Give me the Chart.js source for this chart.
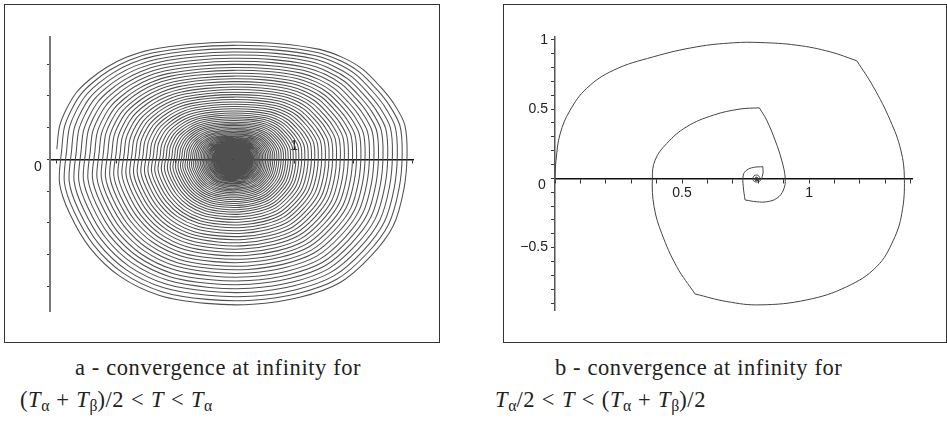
<!DOCTYPE html>
<html>
<head>
<meta charset="utf-8">
<script src="https://cdn.jsdelivr.net/npm/chart.js@4.4.1/dist/chart.umd.min.js"></script>
<style>
  body { margin: 0; width: 947px; height: 422px; background: #fff; position: relative; overflow: hidden; }
  .frame { position: absolute; top: 4px; height: 339px; border: 1.5px solid #333; box-sizing: border-box; }
  #frameA { left: 4px; width: 436px; }
  #frameB { left: 503px; width: 444px; }
  canvas { position: absolute; }
  #chartA { left: 5px; top: 5px; }
  #chartB { left: 504px; top: 5px; }
  .cap { position: absolute; font-family: "Liberation Serif", "DejaVu Serif", serif; font-size: 22.5px; letter-spacing: 0.6px; line-height: 1; color: #222; white-space: nowrap; }
  .cap sub { font-size: 0.7em; vertical-align: baseline; position: relative; top: 0.28em; letter-spacing: 0; }
  .op { margin: 0 0.3em; }
</style>
</head>
<body>
<div class="frame" id="frameA"></div>
<div class="frame" id="frameB"></div>
<canvas id="chartA" width="433" height="337"></canvas>
<canvas id="chartB" width="442" height="337"></canvas>

<div class="cap" style="left:75px; top:357px;">a - convergence at infinity for</div>
<div class="cap" style="left:20px; top:389px;">(<i>T</i><sub>α</sub><span class="op">+</span><i>T</i><sub>β</sub>)/2<span class="op">&lt;</span><i>T</i><span class="op">&lt;</span><i>T</i><sub>α</sub></div>
<div class="cap" style="left:555px; top:357px;">b - convergence at infinity for</div>
<div class="cap" style="left:495px; top:389px;"><i>T</i><sub>α</sub>/2<span class="op">&lt;</span><i>T</i><span class="op">&lt;</span>(<i>T</i><sub>α</sub><span class="op">+</span><i>T</i><sub>β</sub>)/2</div>

<script>
// ---- panel a: many turns of one spiral, all the same egg shape ----
// size of each turn, read from the crossings on the right side (outer = 1)
const loopScaleA = [
  1.000, 0.972, 0.944, 0.916, 0.889, 0.862, 0.836, 0.810, 0.784, 0.759,
  0.735, 0.710, 0.687, 0.663, 0.640, 0.617, 0.595, 0.573, 0.552, 0.531,
  0.510, 0.490, 0.470, 0.451, 0.432, 0.413, 0.395, 0.378, 0.362, 0.346,
  0.331, 0.317, 0.303, 0.290, 0.277, 0.264, 0.252, 0.240, 0.229, 0.218,
  0.208, 0.198, 0.188, 0.179, 0.170, 0.162, 0.154, 0.146, 0.139, 0.132,
  0.125, 0.118, 0.112, 0.106, 0.100, 0.0945, 0.0892, 0.0841, 0.0793, 0.0747,
  0.0703, 0.0661, 0.0621, 0.0583, 0.0547, 0.0513, 0.0480, 0.0449, 0.0420, 0.0392,
  0.0366, 0.0341, 0.0318, 0.0296, 0.0275, 0.0255, 0.0236, 0.0218, 0.0200, 0.0183,
  0.0167, 0.0152, 0.0138, 0.0124, 0.0111, 0.0099, 0.0088, 0.0077, 0.0067, 0.0058
];
// outer turn, offsets from the spiral centre (clockwise from the left)
const loopDxA = [
  -0.594, -0.585, -0.562, -0.528, -0.483, -0.427, -0.360, -0.281, -0.146, 0,
  0.158, 0.292, 0.371, 0.438, 0.495, 0.540, 0.579, 0.587, 0.576, 0.540,
  0.464, 0.360, 0.225, 0.067, -0.090, -0.247, -0.382, -0.483, -0.551, -0.585
];
const loopDyA = [
  0.032, 0.104, 0.158, 0.211, 0.252, 0.290, 0.322, 0.345, 0.363, 0.370,
  0.365, 0.347, 0.321, 0.284, 0.231, 0.179, 0.110, 0.016, -0.095, -0.210,
  -0.306, -0.389, -0.435, -0.457, -0.454, -0.429, -0.368, -0.278, -0.170, -0.074
];
const centerA = { x: 0.794, y: 0 };
const xRangeA = [0.177, 1.401];
const yRangeA = [-0.478, 0.386];
const xLabelsA = [1];

// ---- panel b: a single spiral ----
const spiralXB = [
  0, 0.004, 0.02, 0.059, 0.125, 0.23, 0.387, 0.558, 0.702, 0.807,
  0.951, 1.083, 1.188, 1.253, 1.319, 1.361, 1.375, 1.365, 1.332, 1.266,
  1.148, 0.991, 0.807, 0.676, 0.551, 0.479, 0.42, 0.39, 0.383, 0.394,
  0.44, 0.518, 0.623, 0.728, 0.804, 0.833, 0.866, 0.892, 0.906, 0.899,
  0.873, 0.833, 0.794, 0.748, 0.741, 0.741, 0.755, 0.781, 0.818, 0.818,
  0.806, 0.794, 0.781, 0.779, 0.787, 0.8, 0.806, 0.8, 0.79, 0.786,
  0.79, 0.797, 0.798, 0.794
];
const spiralYB = [
  0, 0.13, 0.32, 0.49, 0.65, 0.78, 0.877, 0.949, 0.978, 0.98,
  0.961, 0.913, 0.848, 0.66, 0.42, 0.204, 0, -0.252, -0.445, -0.637,
  -0.782, -0.877, -0.913, -0.889, -0.834, -0.637, -0.397, -0.205, 0, 0.132,
  0.252, 0.372, 0.456, 0.5, 0.509, 0.42, 0.276, 0.132, 0, -0.084,
  -0.144, -0.169, -0.169, -0.156, -0.06, 0.024, 0.06, 0.079, 0.084, 0.03,
  -0.02, -0.027, -0.017, 0.005, 0.022, 0.02, 0, -0.015, -0.014, -0.003,
  0.008, 0.006, -0.004, -0.006
];
// indexes where the curve has a sharp corner
const cornersB = [12, 24, 34, 43, 48];
const xRangeB = [0, 1.405];
const yRangeB = [-0.95, 1.02];
const xLabelsB = [0.5, 1];
const yLabelsB = [1, 0.5, -0.5];

Chart.defaults.font.family = '"Liberation Sans", Arial, sans-serif';
Chart.defaults.font.size = 14;
Chart.defaults.color = '#222';

function fmt(v) {
  return v < 0 ? '\u2212' + Math.abs(v) : String(v);
}

// x axis crosses the plot at y = 0; y axis sits on the left edge
function makeAxis(range, step, at, labels, opts = {}) {
  const size = opts.size || 0;
  return {
    type: 'linear',
    min: range[0],
    max: range[1],
    position: at,
    afterFit: s => { if (s.isHorizontal()) s.height = size; else s.width = size; },
    border: { display: true, color: opts.borderColor || '#111', width: opts.borderWidth || 1 },
    grid: { drawOnChartArea: false, drawTicks: true, tickLength: opts.tickLength || 4, color: '#333' },
    ticks: {
      stepSize: step,
      includeBounds: false,
      autoSkip: false,
      maxRotation: 0,
      padding: opts.padding ?? 3,
      color: '#222',
      callback: v => {
        const hit = labels.find(l => Math.abs(l - v) < 1e-6);
        return hit === undefined ? '' : fmt(hit);
      }
    }
  };
}

// the lone "0" sitting below-left of where the axes meet
const originLabel = {
  id: 'originLabel',
  afterDraw(chart, args, opts) {
    const { ctx, scales: { x, y } } = chart;
    ctx.save();
    ctx.font = '14px "Liberation Sans", Arial, sans-serif';
    ctx.fillStyle = '#222';
    ctx.textAlign = 'center';
    ctx.textBaseline = 'middle';
    ctx.fillText('0', x.getPixelForValue(opts.atX) + opts.dx, y.getPixelForValue(0) + opts.dy);
    ctx.restore();
  }
};

// build panel a
const spiralA = [];
loopScaleA.forEach(s => {
  loopDxA.forEach((dx, k) => {
    spiralA.push({ x: centerA.x + s * dx, y: centerA.y + s * loopDyA[k] });
  });
});

new Chart(document.getElementById('chartA'), {
  type: 'scatter',
  data: {
    datasets: [{
      data: spiralA,
      showLine: true,
      borderColor: '#4f4f4f',
      borderWidth: 1.05,
      pointRadius: 0,
      tension: 0.3
    }]
  },
  options: {
    responsive: false,
    animation: false,
    events: [],
    layout: { padding: { left: 45, right: 25, top: 32, bottom: 31 } },
    plugins: {
      legend: { display: false },
      tooltip: { enabled: false },
      originLabel: { atX: xRangeA[0], dx: -12, dy: 8 }
    },
    scales: {
      x: makeAxis(xRangeA, 0.2, { y: 0 }, xLabelsA, { tickLength: 3, padding: -25, borderWidth: 1.5 }),
      y: makeAxis(yRangeA, 0.1, 'left', [], { tickLength: 3, borderColor: '#777', borderWidth: 2 })
    }
  },
  plugins: [originLabel]
});

// build panel b, one piece per smooth stretch
const piecesB = [];
const cuts = [0, ...cornersB, spiralXB.length - 1];
for (let i = 0; i < cuts.length - 1; i++) {
  const pts = [];
  for (let j = cuts[i]; j <= cuts[i + 1]; j++) pts.push({ x: spiralXB[j], y: spiralYB[j] });
  piecesB.push({
    data: pts,
    showLine: true,
    borderColor: '#444',
    borderWidth: 1,
    pointRadius: 0,
    tension: 0.4
  });
}
const lastB = spiralXB.length - 1;
piecesB.push({
  data: [{ x: spiralXB[lastB], y: spiralYB[lastB] }],
  pointRadius: 2,
  backgroundColor: '#333',
  borderWidth: 0
});

new Chart(document.getElementById('chartB'), {
  type: 'scatter',
  data: { datasets: piecesB },
  options: {
    responsive: false,
    animation: false,
    events: [],
    layout: { padding: { left: 6, right: 34, top: 32, bottom: 32 } },
    plugins: {
      legend: { display: false },
      tooltip: { enabled: false },
      originLabel: { atX: 0, dx: -13, dy: 7 }
    },
    scales: {
      x: makeAxis(xRangeB, 0.1, { y: 0 }, xLabelsB, { tickLength: 4, padding: 2, borderWidth: 1.5 }),
      y: makeAxis(yRangeB, 0.1, 'left', yLabelsB, { size: 45, tickLength: 4, padding: 3, borderColor: '#555', borderWidth: 1.5 })
    }
  },
  plugins: [originLabel]
});
</script>
</body>
</html>
